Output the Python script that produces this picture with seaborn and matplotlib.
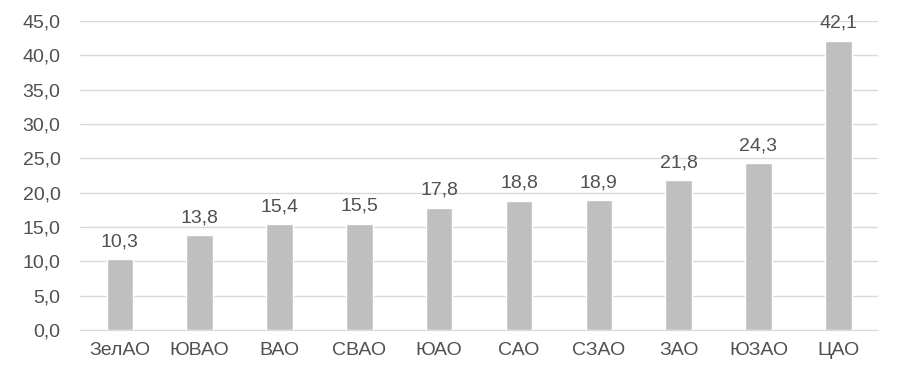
import matplotlib
matplotlib.use("Agg")
import matplotlib.pyplot as plt
import seaborn as sns
import pandas as pd

districts = ["ЗелАО", "ЮВАО", "ВАО", "СВАО", "ЮАО", "САО", "СЗАО", "ЗАО", "ЮЗАО", "ЦАО"]
values = [10.3, 13.8, 15.4, 15.5, 17.8, 18.8, 18.9, 21.8, 24.3, 42.1]

df = pd.DataFrame({"district": districts, "value": values})

sns.set_style("white")
plt.rcParams['font.family'] = ['Liberation Sans', 'DejaVu Sans']
text_col = "#505050"

fig = plt.figure(figsize=(8.98, 3.80), dpi=100)
ax = fig.add_axes([0.089, 0.1316, 0.889, 0.8131])

sns.barplot(data=df, x="district", y="value", color="#BFBFBF",
            width=0.33, saturation=1, ax=ax, zorder=3)

ax.set_ylim(0, 45)
ax.set_xlim(-0.5, len(districts) - 0.5)
ax.set_yticks(range(0, 50, 5))
ax.set_yticklabels([f"{t:.1f}".replace(".", ",") for t in range(0, 50, 5)])
ax.yaxis.grid(True, color="#D9D9D9", lw=1, zorder=0)
ax.set_axisbelow(True)

for s in ["top", "right", "left"]:
    ax.spines[s].set_visible(False)
ax.spines["bottom"].set_color("#D9D9D9")

ax.tick_params(axis="both", length=0, labelsize=14, colors=text_col)
ax.tick_params(axis="x", pad=9)
ax.tick_params(axis="y", pad=14)
ax.set_xlabel("")
ax.set_ylabel("")

for i, v in enumerate(values):
    ax.text(i, v + 1.3, f"{v:.1f}".replace(".", ","), ha="center", va="bottom",
            fontsize=14, color=text_col)

fig.savefig("out.png", dpi=100)
